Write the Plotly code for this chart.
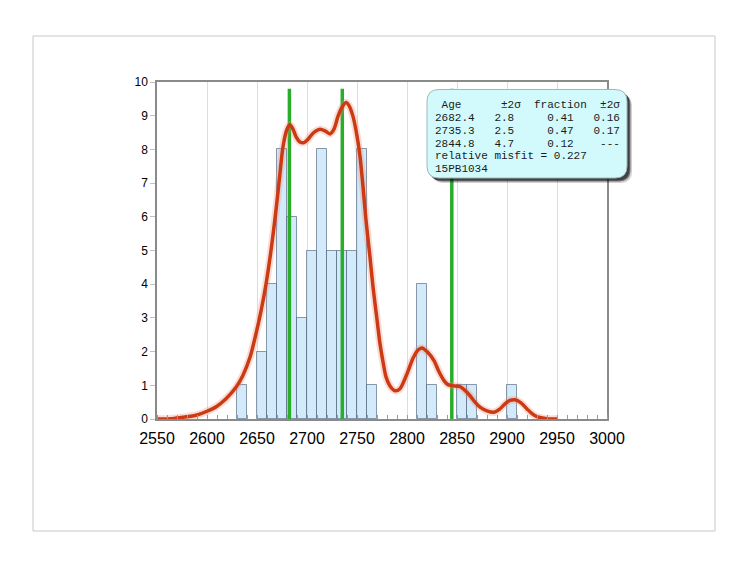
import plotly.graph_objects as go

# histogram of ages (bin left edges, bin width 10 Ma)
bin_starts = [2630, 2650, 2660, 2670, 2680, 2690, 2700, 2710, 2720, 2730, 2740, 2750, 2760,
              2810, 2820, 2850, 2860, 2900]
bin_counts = [1, 2, 4, 8, 6, 3, 5, 8, 5, 5, 5, 8, 1,
              4, 1, 1, 1, 1]
bin_width = 10

# probability density curve
curve_x = [2550, 2565, 2576, 2590, 2600, 2610, 2619, 2629, 2636, 2643, 2649, 2654, 2659,
           2664, 2669, 2673, 2676, 2680, 2683, 2686, 2689, 2693, 2697, 2701, 2706, 2713,
           2718, 2723, 2727, 2731, 2735, 2739, 2742, 2746, 2750, 2753, 2756, 2759, 2763,
           2766, 2770, 2773, 2776, 2779, 2783, 2788, 2793, 2800, 2806, 2811, 2815, 2820,
           2827, 2832, 2837, 2841, 2845, 2853, 2858, 2863, 2868, 2873, 2880, 2887, 2893,
           2898, 2903, 2908, 2914, 2920, 2925, 2930, 2940, 2950]
curve_y = [0.0, 0.01, 0.05, 0.12, 0.23, 0.38, 0.6, 0.94, 1.3, 1.83, 2.53, 3.2, 4.0,
           5.0, 6.2, 7.3, 8.08, 8.6, 8.73, 8.6, 8.38, 8.22, 8.2, 8.3, 8.48, 8.6,
           8.55, 8.46, 8.6, 8.98, 9.25, 9.39, 9.3, 8.98, 8.4, 7.79, 6.9, 5.9, 4.8,
           3.92, 2.95, 2.23, 1.7, 1.25, 0.98, 0.84, 0.9, 1.34, 1.8, 2.05, 2.11, 2.0,
           1.73, 1.4, 1.14, 1.02, 0.99, 0.96, 0.85, 0.69, 0.5, 0.35, 0.24, 0.2, 0.3,
           0.45, 0.55, 0.57, 0.48, 0.3, 0.16, 0.07, 0.01, 0.0]

# mixture components
peak_ages = [2682.4, 2735.3, 2844.8]
peak_line_top = 9.8

table_lines = [
    " Age      ±2σ  fraction  ±2σ",
    "2682.4   2.8     0.41   0.16",
    "2735.3   2.5     0.47   0.17",
    "2844.8   4.7     0.12    ---",
    "relative misfit = 0.227",
    "15PB1034",
]

x_ticks = list(range(2550, 3001, 50))

W, H = 734, 576
OX, OY = 8, 8  # page offset of the figure in the browser window
L, R, T, B = 157 - OX, 127 + OX, 82 - OY, 157 + OY
PW, PH = W - L - R, H - T - B


# screen pixel (as seen in the window) -> paper coordinates
def px_x(p):
    return (p - OX - L) / PW


def px_y(p):
    return (H - B - (p - OY)) / PH


def rounded_path(x0, y0, x1, y1, rx, ry):
    return (f"M {x0 + rx},{y1} L {x1 - rx},{y1} Q {x1},{y1} {x1},{y1 - ry} "
            f"L {x1},{y0 + ry} Q {x1},{y0} {x1 - rx},{y0} "
            f"L {x0 + rx},{y0} Q {x0},{y0} {x0},{y0 + ry} "
            f"L {x0},{y1 - ry} Q {x0},{y1} {x0 + rx},{y1} Z")


fig = go.Figure()

# green peak lines (under the bars)
for age in peak_ages:
    fig.add_trace(go.Scatter(x=[age, age], y=[0, peak_line_top], mode='lines',
                             line=dict(color='#2aad2a', width=3.5),
                             hoverinfo='skip', showlegend=False))

# red density curve with a soft glow
fig.add_trace(go.Scatter(x=curve_x, y=curve_y, mode='lines',
                         line=dict(color='rgba(240,140,120,0.3)', width=7.5,
                                   shape='spline', smoothing=0.8),
                         hoverinfo='skip', showlegend=False))
fig.add_trace(go.Scatter(x=curve_x, y=curve_y, mode='lines',
                         line=dict(color='#cc3a14', width=3.5,
                                   shape='spline', smoothing=0.8),
                         showlegend=False))

# histogram bars on top, semi transparent
fig.add_trace(go.Bar(x=bin_starts, y=bin_counts, width=bin_width, offset=0,
                     marker=dict(color='rgba(188,224,247,0.68)',
                                 line=dict(color='rgba(80,100,125,0.65)', width=1)),
                     showlegend=False))

# outer frame
fig.add_shape(type='rect', xref='paper', yref='paper',
              x0=px_x(33), x1=px_x(715), y0=px_y(531), y1=px_y(36),
              line=dict(color='#c8c8c8', width=1), layer='below')

# rounded info box with a shadow
bx0, bx1, by0, by1 = px_x(427), px_x(627), px_y(178), px_y(89.5)
rx, ry = 12 / PW, 12 / PH
for off, col in [(5, 'rgba(0,0,0,0.18)'), (3.5, 'rgba(0,0,0,0.45)'), (2.5, 'rgba(30,30,30,0.6)')]:
    dx, dy = off / PW, off / PH
    fig.add_shape(type='path', xref='paper', yref='paper', layer='above',
                  path=rounded_path(bx0 + dx, by0 - dy, bx1 + dx, by1 - dy, rx, ry),
                  fillcolor=col, line=dict(width=0))
fig.add_shape(type='path', xref='paper', yref='paper', layer='above',
              path=rounded_path(bx0, by0, bx1, by1, rx, ry),
              fillcolor='#d2fafc', line=dict(color='#9fb8b8', width=1))

line_step = 12.85
for i, txt in enumerate(table_lines):
    fig.add_annotation(xref='paper', yref='paper', x=px_x(433), y=px_y(105 + i * line_step),
                       xanchor='left', yanchor='middle', showarrow=False, align='left',
                       text=txt.replace(' ', '\u00a0'),
                       font=dict(family='Liberation Mono, Courier New, monospace',
                                 size=11, color='#1a1a1a'))

fig.update_layout(
    width=W, height=H,
    margin=dict(l=L, r=R, t=T, b=B),
    paper_bgcolor='white', plot_bgcolor='white',
    font=dict(family='Arial, Liberation Sans, sans-serif', color='black'),
    bargap=0,
    xaxis=dict(range=[2550, 3000], tickvals=x_ticks, ticktext=[str(v) for v in x_ticks],
               tickfont=dict(size=16), showgrid=True, gridcolor='#dddddd', gridwidth=1,
               showline=True, linecolor='#8a8a8a', linewidth=1.5, mirror=True,
               ticks='', zeroline=False, ticklabelstandoff=4,
               minor=dict(dtick=10, tick0=2550, ticks='inside', ticklen=4,
                          tickcolor='#9a9a9a', showgrid=False)),
    yaxis=dict(range=[0, 10], dtick=1, tickfont=dict(size=12), showgrid=False,
               showline=True, linecolor='#8a8a8a', linewidth=1.5, mirror=True,
               ticks='outside', ticklen=5, tickcolor='#c0c0c0', zeroline=False),
)

fig.write_html("out.html")
